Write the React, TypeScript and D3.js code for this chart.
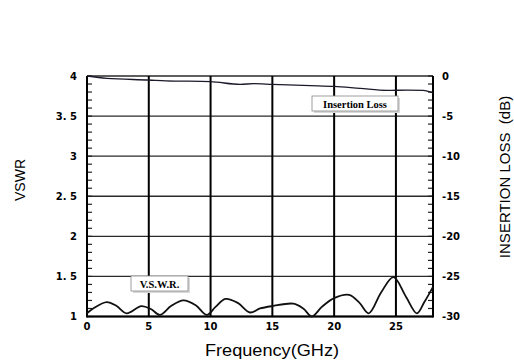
import React from "react";
import * as d3 from "d3";

const vswrFreq = [0, 0.5, 1.6, 2.4, 3.2, 4.4, 5.2, 5.9, 6.8, 7.8, 8.8, 9.7, 10.4, 11.2, 12.2, 13.2, 14.0, 15.0, 16.7, 17.5, 18.2, 19.0, 20.0, 21.2, 22.0, 22.8, 23.8, 24.8, 25.8, 26.7, 27.3, 28];
const vswrValues = [1.04, 1.1, 1.18, 1.13, 1.04, 1.13, 1.09, 1.02, 1.13, 1.2, 1.14, 1.02, 1.12, 1.22, 1.17, 1.05, 1.1, 1.13, 1.16, 1.1, 1.0, 1.12, 1.23, 1.27, 1.18, 1.04, 1.3, 1.49, 1.25, 1.04, 1.18, 1.37];
const ilFreq = [0, 1.6, 5, 6.4, 10, 12.4, 13.5, 15, 18.1, 20, 22.1, 24.3, 25.9, 27.2, 28];
const ilValues = [0, -0.3, -0.5, -0.6, -0.7, -1.05, -0.95, -1.05, -1.2, -1.3, -1.55, -1.8, -1.75, -1.8, -2.1];

const xTicks = [0, 5, 10, 15, 20, 25];
const leftTicks = [1, 1.5, 2, 2.5, 3, 3.5, 4];
const leftTickLabels = ["1", "1. 5", "2", "2. 5", "3", "3. 5", "4"];
const rightTicks = [0, -5, -10, -15, -20, -25, -30];

export default function App() {
  const x = d3.scaleLinear().domain([0, 28]).range([87, 433]);
  const yL = d3.scaleLinear().domain([1, 4]).range([316.5, 76]);
  const yR = d3.scaleLinear().domain([-30, 0]).range([316.5, 76]);

  const vswrLine = d3
    .line<number>()
    .x((_, i) => x(vswrFreq[i]))
    .y((d) => yL(d))
    .curve(d3.curveCatmullRom.alpha(0.5));
  const ilLine = d3
    .line<number>()
    .x((_, i) => x(ilFreq[i]))
    .y((d) => yR(d))
    .curve(d3.curveMonotoneX);

  const leftMinor = d3.range(1, 4.0001, 0.1);
  const rightMinor = d3.range(-30, 0.0001, 1);

  const tickFont = { fontFamily: "DejaVu Sans", fontWeight: "bold", fontSize: 10 } as const;

  return (
    <svg width={514} height={362} style={{ position: "absolute", left: 0, top: 0, background: "#fff" }}>
      <rect x={0} y={0} width={514} height={362} fill="#fff" />
      {/* horizontal grid */}
      {leftTicks.map((t) => (
        <line key={"h" + t} x1={x(0)} x2={x(28)} y1={yL(t)} y2={yL(t)} stroke="#2a2a2a" strokeWidth={1.4} />
      ))}
      {/* vertical grid */}
      {xTicks.slice(1).map((t) => (
        <line key={"v" + t} x1={x(t)} x2={x(t)} y1={yL(4)} y2={yL(1)} stroke="#000" strokeWidth={2} />
      ))}
      {/* minor ticks */}
      {leftMinor.map((t, i) => (
        <line key={"lm" + i} x1={x(0)} x2={x(0) + 5} y1={yL(t)} y2={yL(t)} stroke="#222" strokeWidth={1.2} />
      ))}
      {rightMinor.map((t, i) => (
        <line key={"rm" + i} x1={x(28)} x2={x(28) - 5} y1={yR(t)} y2={yR(t)} stroke="#222" strokeWidth={1.2} />
      ))}
      {/* axes */}
      <line x1={x(0)} x2={x(0)} y1={yL(4)} y2={yL(1) + 1} stroke="#000" strokeWidth={2} />
      <line x1={x(28)} x2={x(28)} y1={yL(4)} y2={yL(1) + 1} stroke="#000" strokeWidth={2} />
      <line x1={x(0)} x2={x(28)} y1={yL(1)} y2={yL(1)} stroke="#000" strokeWidth={2} />

      {/* curves */}
      <path d={ilLine(ilValues) || ""} fill="none" stroke="#1a1a2a" strokeWidth={1.3} />
      <path d={vswrLine(vswrValues) || ""} fill="none" stroke="#111" strokeWidth={1.8} />

      {/* label boxes */}
      <rect x={314} y={98} width={86} height={15} fill="#d8d8d8" />
      <rect x={312} y={96} width={86} height={15} fill="#fff" stroke="#888" strokeWidth={0.8} />
      <text x={355} y={107.5} textAnchor="middle" fontFamily="Liberation Serif" fontWeight="bold" fontSize={10.5}>
        Insertion Loss
      </text>
      <rect x={133} y={278} width={57} height={15} fill="#d8d8d8" />
      <rect x={131} y={276} width={57} height={15} fill="#fff" stroke="#888" strokeWidth={0.8} />
      <text x={159.5} y={287.5} textAnchor="middle" fontFamily="Liberation Serif" fontWeight="bold" fontSize={10.5}>
        V.S.W.R.
      </text>

      {/* tick labels */}
      {leftTicks.map((t, i) => (
        <text key={"lt" + t} x={77} y={yL(t)} dy="0.35em" textAnchor="end" {...tickFont}>
          {leftTickLabels[i]}
        </text>
      ))}
      {rightTicks.map((t) => (
        <text key={"rt" + t} x={442} y={yR(t)} dy="0.35em" textAnchor="start" {...tickFont}>
          {t === 0 ? "0" : "-" + Math.abs(t)}
        </text>
      ))}
      {xTicks.map((t) => (
        <text key={"xt" + t} x={x(t)} y={326} dy="0.35em" textAnchor="middle" {...tickFont}>
          {t}
        </text>
      ))}

      {/* axis titles */}
      <text x={205} y={356} fontFamily="Liberation Sans" fontSize={16} textLength={134} lengthAdjust="spacingAndGlyphs">
        Frequency(GHz)
      </text>
      <text
        transform="translate(25,180) rotate(-90)"
        textAnchor="middle"
        fontFamily="Liberation Sans"
        fontSize={14}
      >
        VSWR
      </text>
      <text
        transform="translate(510,177) rotate(-90)"
        textAnchor="middle"
        fontFamily="Liberation Sans"
        fontSize={15}
        style={{ whiteSpace: "pre" }}
      >
        {"INSERTION LOSS  (dB)"}
      </text>
    </svg>
  );
}
